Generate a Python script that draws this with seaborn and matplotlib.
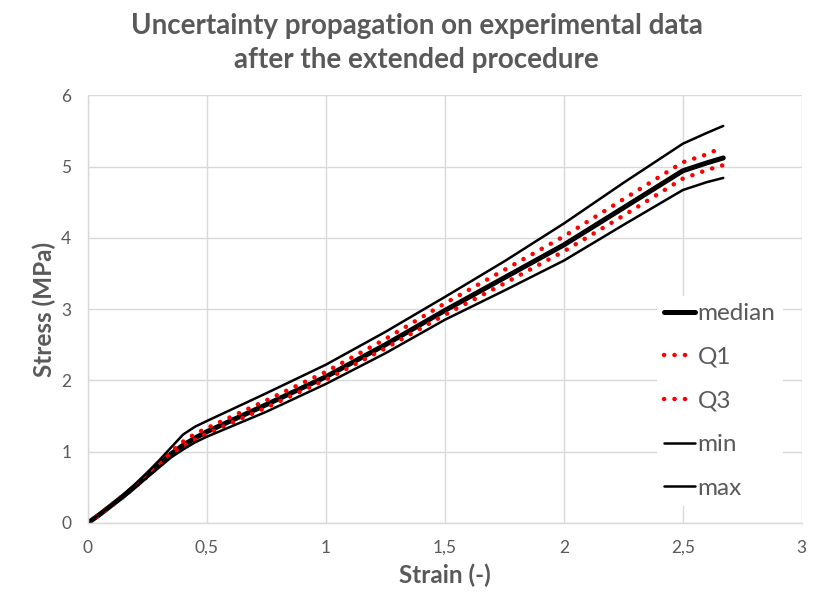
import numpy as np
import pandas as pd
import matplotlib
matplotlib.use("Agg")
import matplotlib.pyplot as plt
import seaborn as sns
from matplotlib.ticker import FuncFormatter

# data
strain = [0, 0.05, 0.1, 0.15, 0.2, 0.25, 0.3, 0.35, 0.4, 0.45, 0.5,
          0.75, 1.0, 1.25, 1.5, 1.75, 2.0, 2.25, 2.5, 2.6, 2.67]
strain_q3 = strain[:-1] + [2.64]

median = [0, 0.12, 0.25, 0.38, 0.52, 0.67, 0.82, 0.97, 1.09, 1.19, 1.28,
          1.66, 2.05, 2.50, 2.98, 3.44, 3.90, 4.42, 4.94, 5.05, 5.12]
q1 = [0, 0.12, 0.24, 0.37, 0.51, 0.65, 0.80, 0.95, 1.07, 1.17, 1.25,
      1.62, 2.01, 2.45, 2.92, 3.36, 3.81, 4.31, 4.83, 4.95, 5.02]
q3 = [0, 0.13, 0.26, 0.39, 0.53, 0.68, 0.84, 1.00, 1.14, 1.25, 1.33,
      1.72, 2.12, 2.58, 3.08, 3.55, 4.02, 4.54, 5.06, 5.17, 5.23]
s_min = [0, 0.12, 0.24, 0.36, 0.50, 0.64, 0.78, 0.92, 1.03, 1.13, 1.21,
         1.56, 1.95, 2.38, 2.85, 3.26, 3.68, 4.18, 4.67, 4.78, 4.84]
s_max = [0, 0.13, 0.26, 0.40, 0.55, 0.71, 0.88, 1.06, 1.24, 1.35, 1.43,
         1.82, 2.22, 2.68, 3.17, 3.67, 4.20, 4.77, 5.32, 5.47, 5.57]

x_ticks = [0, 0.5, 1, 1.5, 2, 2.5, 3]
y_ticks = [0, 1, 2, 3, 4, 5, 6]

sns.set_theme(style="whitegrid")
plt.rcParams['font.family'] = ['Lato', 'DejaVu Sans']
grey = "#595959"
gridc = "#d9d9d9"

fig = plt.figure(figsize=(8.14, 5.99), dpi=100)
ax = fig.add_axes([0.108, 0.127, 0.877, 0.714])

dot = dict(color="red", linewidth=3.2, linestyle=(0, (0.05, 2.3)),
           dash_capstyle="round")
sns.lineplot(x=strain, y=median, ax=ax, color="black", linewidth=3.6,
             label="median", sort=False)
sns.lineplot(x=strain, y=q1, ax=ax, label="Q1", sort=False, **dot)
sns.lineplot(x=strain_q3, y=q3, ax=ax, label="Q3", sort=False, **dot)
sns.lineplot(x=strain, y=s_min, ax=ax, color="black", linewidth=1.8,
             label="min", sort=False)
sns.lineplot(x=strain, y=s_max, ax=ax, color="black", linewidth=1.8,
             label="max", sort=False)

ax.set_xlim(0, 3)
ax.set_ylim(0, 6)
ax.set_xticks(x_ticks)
ax.set_yticks(y_ticks)
fmt = FuncFormatter(lambda v, p: ('%g' % v).replace('.', ','))
ax.xaxis.set_major_formatter(fmt)
ax.yaxis.set_major_formatter(fmt)
ax.tick_params(axis='both', length=0, labelsize=12.5, labelcolor=grey)
ax.tick_params(axis='x', pad=12)
ax.tick_params(axis='y', pad=12)
ax.grid(True, color=gridc, linewidth=1)
for side in ['top', 'right']:
    ax.spines[side].set_visible(False)
for side in ['left', 'bottom']:
    ax.spines[side].set_color(gridc)
    ax.spines[side].set_linewidth(1)

ax.set_xlabel("Strain (-)", fontsize=17.5, fontweight='bold', color=grey,
              labelpad=6)
ax.set_ylabel("Stress (MPa)", fontsize=17.5, fontweight='bold', color=grey,
              labelpad=4)
fig.suptitle("Uncertainty propagation on experimental data\nafter the extended procedure",
             fontsize=20, fontweight='bold', color=grey, x=0.512, y=0.978,
             linespacing=1.38)

leg = ax.legend(loc='center left', bbox_to_anchor=(0.78, 0.285), frameon=True,
                fontsize=17.5, labelspacing=0.93, handlelength=1.25,
                handletextpad=0.12, borderpad=0.3)
leg.get_frame().set_edgecolor('none')
leg.get_frame().set_facecolor('white')
leg.get_frame().set_alpha(1)
for t in leg.get_texts():
    t.set_color(grey)

fig.savefig("out.png", dpi=100)
